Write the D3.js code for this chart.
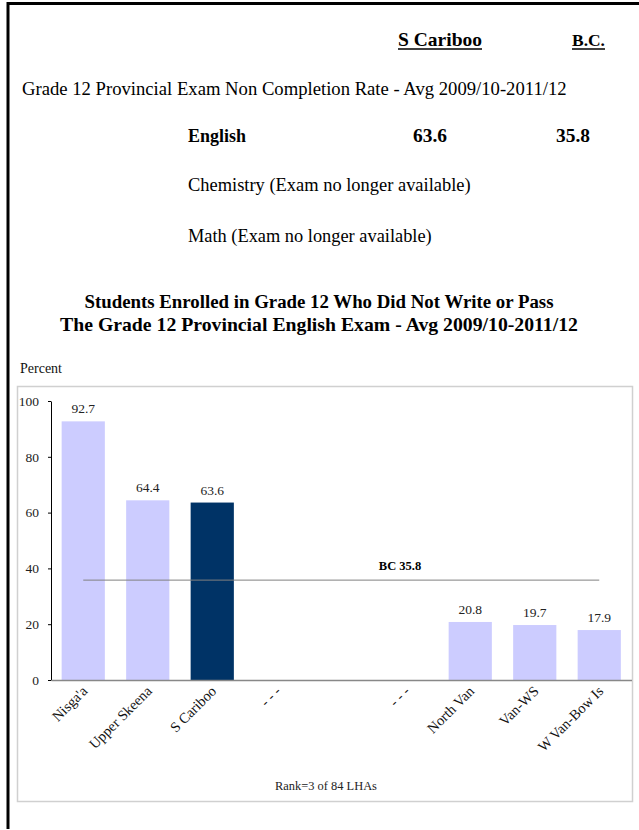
<!DOCTYPE html>
<html><head><meta charset="utf-8">
<script src="https://cdn.jsdelivr.net/npm/d3@7/dist/d3.min.js"></script>
<style>html,body{margin:0;padding:0;background:#fff;} svg{display:block;}</style>
</head><body>
<script>
// ---- data ----
const categories = ["Nisga'a", "Upper Skeena", "S Cariboo", "- - -", "", "- - -", "North Van", "Van-WS", "W Van-Bow Is"];
const values = [92.7, 64.4, 63.6, null, null, null, 20.8, 19.7, 17.9];
const highlight = "S Cariboo";
const bcValue = 35.8;
const yTicks = [0, 20, 40, 60, 80, 100];
const headerCols = ["S Cariboo", "B.C."];
const examRows = ["English", "Chemistry (Exam no longer available)", "Math (Exam no longer available)"];
const englishValues = [63.6, 35.8];
const pageTitle = "Grade 12 Provincial Exam Non Completion Rate - Avg 2009/10-2011/12";
const chartTitle = ["Students Enrolled in Grade 12 Who Did Not Write or Pass", "The Grade 12 Provincial English Exam - Avg 2009/10-2011/12"];
const rankText = "Rank=3 of 84 LHAs";

const FONT = "'Liberation Serif', 'DejaVu Serif', serif";
const W = 639, H = 830;
const svg = d3.select("body").append("svg").attr("width", W).attr("height", H)
  .style("font-family", FONT);

// fit text to a target width by adjusting font-size
function fit(sel, target) {
  const node = sel.node();
  const fs = parseFloat(sel.attr("font-size"));
  const w = node.getComputedTextLength();
  if (w > 0) sel.attr("font-size", (fs * target / w).toFixed(2));
  return sel;
}

// page border
svg.append("line").attr("x1", 8).attr("x2", 8).attr("y1", 2).attr("y2", 829).attr("stroke", "#000").attr("stroke-width", 3);
svg.append("line").attr("x1", 7).attr("x2", 639).attr("y1", 3.5).attr("y2", 3.5).attr("stroke", "#000").attr("stroke-width", 3);

// header
const colX = [398, 572], colW = [84, 33];
headerCols.forEach((c, i) => {
  const t = svg.append("text").attr("x", colX[i]).attr("y", 46).attr("font-size", 15)
    .attr("font-weight", "bold").attr("fill", "#000").text(c);
  fit(t, colW[i]);
  svg.append("line").attr("x1", colX[i]).attr("x2", colX[i] + colW[i]).attr("y1", 49).attr("y2", 49)
    .attr("stroke", "#000").attr("stroke-width", 1.3);
});
fit(svg.append("text").attr("x", 22).attr("y", 95).attr("font-size", 16).attr("fill", "#000").text(pageTitle), 545);

const rowY = [142, 191, 242], rowW = [58, 283, 244];
examRows.forEach((r, i) => {
  const t = svg.append("text").attr("x", 188).attr("y", rowY[i]).attr("font-size", 15)
    .attr("font-weight", i === 0 ? "bold" : "normal").attr("fill", "#000").text(r);
  fit(t, rowW[i]);
});
const valX = [413, 556];
englishValues.forEach((v, i) => {
  fit(svg.append("text").attr("x", valX[i]).attr("y", 142).attr("font-size", 15)
    .attr("font-weight", "bold").attr("fill", "#000").text(v.toFixed(1)), 34);
});

// chart title
const tW = [469, 518];
chartTitle.forEach((s, i) => {
  fit(svg.append("text").attr("x", 319).attr("y", 308 + i * 23).attr("text-anchor", "middle")
    .attr("font-size", 18).attr("font-weight", "bold").attr("fill", "#000").text(s), tW[i]);
});

fit(svg.append("text").attr("x", 20).attr("y", 373).attr("font-size", 13).attr("fill", "#111").text("Percent"), 42);

// chart panel
svg.append("rect").attr("x", 17.5).attr("y", 386.5).attr("width", 615).attr("height", 415)
  .attr("fill", "#fff").attr("stroke", "#d0d0d0").attr("stroke-width", 1.5);

const x = d3.scaleBand().domain(d3.range(categories.length)).range([51, 631.5])
  .paddingInner(0.33).paddingOuter(0.165);
const y = d3.scaleLinear().domain([0, 100]).range([680, 401]);

// bars
const g = svg.append("g");
g.selectAll("rect.bar").data(values.map((v, i) => ({v, i})).filter(d => d.v != null))
  .join("rect").attr("class", "bar")
  .attr("x", d => x(d.i)).attr("width", x.bandwidth())
  .attr("y", d => y(d.v)).attr("height", d => y(0) - y(d.v))
  .attr("fill", d => categories[d.i] === highlight ? "#003366" : "#ccccff");

// value labels
g.selectAll("text.val").data(values.map((v, i) => ({v, i})).filter(d => d.v != null))
  .join("text").attr("class", "val")
  .attr("x", d => x(d.i) + x.bandwidth() / 2).attr("y", d => y(d.v) - 8)
  .attr("text-anchor", "middle").attr("font-size", 13.5).attr("fill", "#222")
  .text(d => d.v.toFixed(1));

// BC line
const xc = i => x(i) + x.bandwidth() / 2;
svg.append("line").attr("x1", xc(0)).attr("x2", xc(categories.length - 1))
  .attr("y1", y(bcValue)).attr("y2", y(bcValue)).attr("stroke", "#808080").attr("stroke-width", 1);
svg.append("text").attr("x", 400).attr("y", y(bcValue) - 10).attr("text-anchor", "middle")
  .attr("font-size", 12.5).attr("font-weight", "bold").attr("fill", "#000").text("BC " + bcValue);

// y axis
const yAxis = svg.append("g").attr("transform", "translate(51,0)")
  .call(d3.axisLeft(y).tickValues(yTicks).tickSize(3).tickPadding(9).tickSizeOuter(0));
yAxis.select(".domain").attr("stroke", "#000");
yAxis.selectAll(".tick line").attr("stroke", "#000");
yAxis.selectAll(".tick text").attr("font-family", FONT).attr("font-size", 13.5).attr("fill", "#222");

// x axis
const xAxis = svg.append("g").attr("transform", "translate(0,680)")
  .call(d3.axisBottom(x).tickSize(0).tickSizeOuter(0).tickFormat(i => categories[i]));
xAxis.select(".domain").attr("stroke", "#888").attr("stroke-width", 1.3);
xAxis.selectAll(".tick text").attr("font-family", FONT).attr("font-size", 14.5).attr("fill", "#111")
  .attr("text-anchor", "end").attr("dy", 0).attr("y", 0)
  .attr("transform", "translate(5,12) rotate(-45)");

// rank text
fit(svg.append("text").attr("x", 326).attr("y", 790).attr("text-anchor", "middle")
  .attr("font-size", 12).attr("fill", "#222").text(rankText), 102);
</script>
</body></html>
